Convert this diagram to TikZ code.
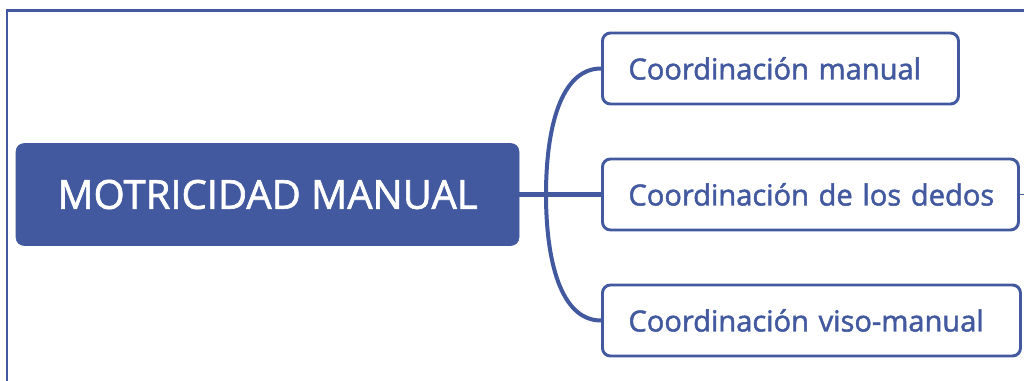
\documentclass[tikz,border=0pt]{standalone}
\usepackage{fontspec}
\setmainfont{Open Sans}[FakeBold=1.6]
\definecolor{mblue}{RGB}{66,89,160}
\tikzset{
  mainbox/.style={fill=mblue, draw=mblue, rounded corners=6pt, text=white, inner sep=0pt,
    minimum width=503*0.75pt, minimum height=102*0.75pt, font=\fontsize{30}{34}\selectfont},
  childbox/.style={draw=mblue, line width=2.2pt, fill=white, rounded corners=6pt, text=mblue,
    inner xsep=26*0.75pt, inner ysep=0pt, minimum height=71*0.75pt, align=left,
    font=\fontsize{21.8}{26}\selectfont, anchor=west},
  link/.style={draw=mblue, line width=3pt},
  frameline/.style={draw=mblue, line width=1.8pt}
}
\begin{document}
\begin{tikzpicture}[x=0.75pt,y=-0.75pt]
\useasboundingbox (0,0) rectangle (1024,381);
\fill[white] (0,0) rectangle (1024,381);
\draw[frameline] (7,381) -- (7,10.5) -- (1024,10.5);
% main node
\node[mainbox] (main) at (267.5,194.5) {MOTRICIDAD MANUAL};
% children
\node[childbox, text width=304*0.75pt] (c1) at (601,68.5) {\mbox{Coordinación manual}};
\node[childbox, text width=364*0.75pt] (c2) at (601,194.5) {\mbox{Coordinación de los dedos}};
\node[childbox, text width=366*0.75pt] (c3) at (601,320.5) {\mbox{Coordinación viso-manual}};
\coordinate (split) at (546,194.5);
\coordinate (stub) at (1024,194.5);
% connectors
\draw[link] (main.east) -- (c2.west);
\draw[link] (c1.west) .. controls (560,68.5) and (546,130) .. (split)
  .. controls (546,259) and (560,320.5) .. (c3.west);
\draw[draw=mblue, line width=1.2pt] (c2.east) -- (stub);
\end{tikzpicture}
\end{document}
